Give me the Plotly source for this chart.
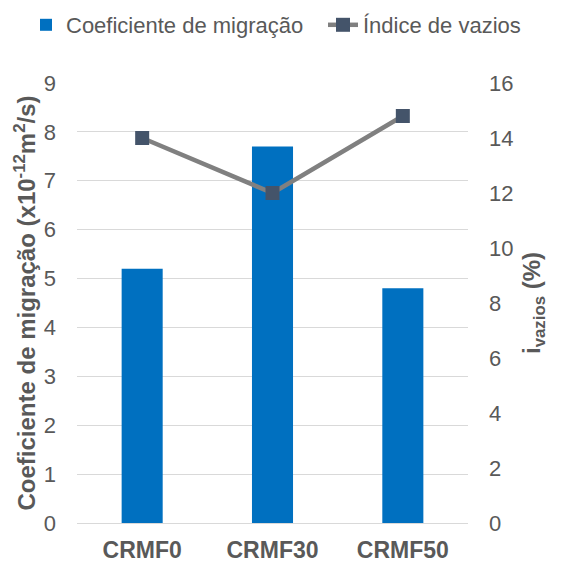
import plotly.graph_objects as go

categories = ["CRMF0", "CRMF30", "CRMF50"]
coef_migracao = [5.2, 7.7, 4.8]
indice_vazios = [14.0, 12.0, 14.8]
left_ticks = [0, 1, 2, 3, 4, 5, 6, 7, 8, 9]
right_ticks = [0, 2, 4, 6, 8, 10, 12, 14, 16]

FONT = "Liberation Sans, Arial, sans-serif"
TXT = "#595959"

# page body has an 8px default margin, so the figure is drawn 8px smaller
W, H = 565, 555

fig = go.Figure()
fig.add_trace(go.Bar(
    x=categories, y=coef_migracao, name="Coeficiente de migração",
    marker=dict(color="#0070C0", line=dict(width=0)), yaxis="y",
    legend="legend",
))
fig.add_trace(go.Scatter(
    x=categories, y=indice_vazios, name="Índice de vazios", yaxis="y2",
    mode="lines+markers",
    line=dict(color="#808080", width=4.5),
    marker=dict(symbol="square", size=14, color="#44546A"),
    legend="legend2",
))

leg_common = dict(orientation="h", xref="container", yref="container",
                  xanchor="left", yanchor="middle", y=1 - 17 / H,
                  font=dict(size=22, color=TXT, family=FONT), itemwidth=30,
                  bgcolor="rgba(0,0,0,0)")

fig.update_layout(
    width=W, height=H,
    margin=dict(l=69, r=105, t=75, b=40, autoexpand=False),
    paper_bgcolor="white", plot_bgcolor="white",
    font=dict(family=FONT, color=TXT, size=22),
    bargap=0.685,
    showlegend=True,
    legend=dict(x=18 / W, **leg_common),
    legend2=dict(x=315 / W, **leg_common),
    xaxis=dict(showgrid=False, showline=True, linecolor="#d9d9d9", linewidth=1,
               tickfont=dict(size=23, color=TXT, family=FONT, weight="bold"),
               ticks="", ticklabelstandoff=6),
    yaxis=dict(range=[0, 9], tickvals=left_ticks, showgrid=True, gridcolor="#d9d9d9",
               gridwidth=1, zeroline=False, tickfont=dict(size=22, color=TXT),
               ticks="", ticklabelstandoff=20,
               title=dict(text="Coeficiente de migração (x10<sup>-12</sup>m<sup>2</sup>/s)",
                          font=dict(size=24, color=TXT, weight="bold"), standoff=1)),
    yaxis2=dict(range=[0, 16], tickvals=right_ticks, overlaying="y", side="right",
                showgrid=False, zeroline=False, tickfont=dict(size=22, color=TXT),
                ticks="", ticklabelstandoff=20,
                title=dict(text="i<sub>vazios</sub> (%)",
                           font=dict(size=24, color=TXT, weight="bold"), standoff=10)),
)

fig.write_html("out.html")
